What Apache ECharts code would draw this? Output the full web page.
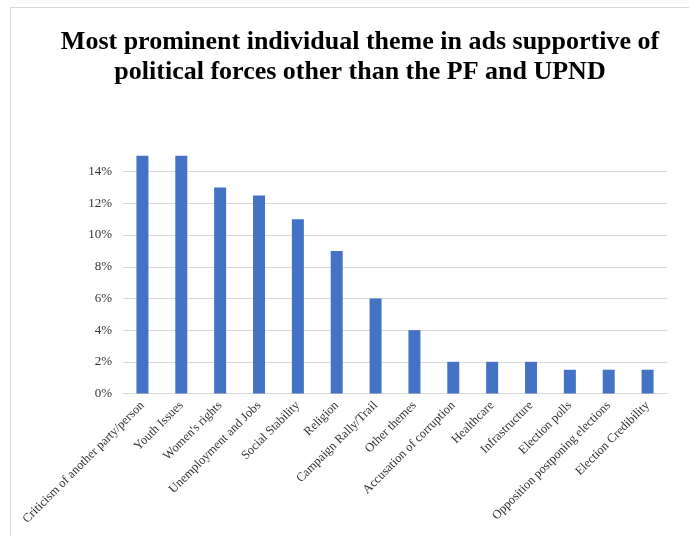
<!DOCTYPE html>
<html>
<head>
<meta charset="utf-8">
<script src="https://cdn.jsdelivr.net/npm/echarts@6/dist/echarts.min.js"></script>
<style>
html,body{margin:0;padding:0;background:#fff;}
#wrap{position:relative;width:689px;height:536px;}
#chart{position:absolute;left:0;top:0;width:689px;height:536px;}
#frame{position:absolute;left:10px;top:7px;right:0;bottom:0;border-top:1px solid #d9d9d9;border-left:1px solid #d9d9d9;pointer-events:none;}
</style>
</head>
<body>
<div id="wrap"><div id="chart"></div><div id="frame"></div></div>
<script>
const categories = [
  "Criticism of another party/person",
  "Youth Issues",
  "Women's rights",
  "Unemployment and Jobs",
  "Social Stability",
  "Religion",
  "Campaign Rally/Trail",
  "Other themes",
  "Accusation of corruption",
  "Healthcare",
  "Infrastructure",
  "Election polls",
  "Opposition postponing elections",
  "Election Credibility"
];
const values = [0.15, 0.15, 0.13, 0.125, 0.11, 0.09, 0.06, 0.04, 0.02, 0.02, 0.02, 0.015, 0.015, 0.015];
const titleText = "Most prominent individual theme in ads supportive of\npolitical forces other than the PF and UPND";

const chart = echarts.init(document.getElementById('chart'), null, {renderer: 'canvas'});
chart.setOption({
  animation: false,
  backgroundColor: '#fff',
  title: {
    text: titleText,
    left: 355,
    top: 22,
    textAlign: 'center',
    textStyle: {
      fontFamily: '"Liberation Serif", "Times New Roman", serif',
      fontWeight: 'bold',
      fontSize: 26,
      lineHeight: 30,
      color: '#000'
    }
  },
  grid: {left: 123, right: 22, top: 140, bottom: 142.5, containLabel: false},
  xAxis: {
    type: 'category',
    data: categories,
    axisLine: {show: true, lineStyle: {color: '#d9d9d9', width: 1}},
    axisTick: {show: false},
    axisLabel: {
      interval: 0,
      rotate: 45,
      margin: 10,
      fontFamily: '"Liberation Serif", "Times New Roman", serif',
      fontSize: 12.5,
      color: '#333'
    }
  },
  yAxis: {
    type: 'value',
    min: 0,
    max: 0.16,
    interval: 0.02,
    axisLine: {show: false},
    axisTick: {show: false},
    axisLabel: {
      showMaxLabel: false,
      margin: 11,
      formatter: v => Math.round(v * 100) + '%',
      fontFamily: '"Liberation Serif", "Times New Roman", serif',
      fontSize: 13,
      color: '#333'
    },
    splitLine: {show: true, showMaxLine: false, lineStyle: {color: '#d9d9d9', width: 1}}
  },
  series: [{
    type: 'bar',
    data: values,
    barWidth: 12,
    itemStyle: {color: '#4472C4'}
  }]
});
</script>
</body>
</html>
